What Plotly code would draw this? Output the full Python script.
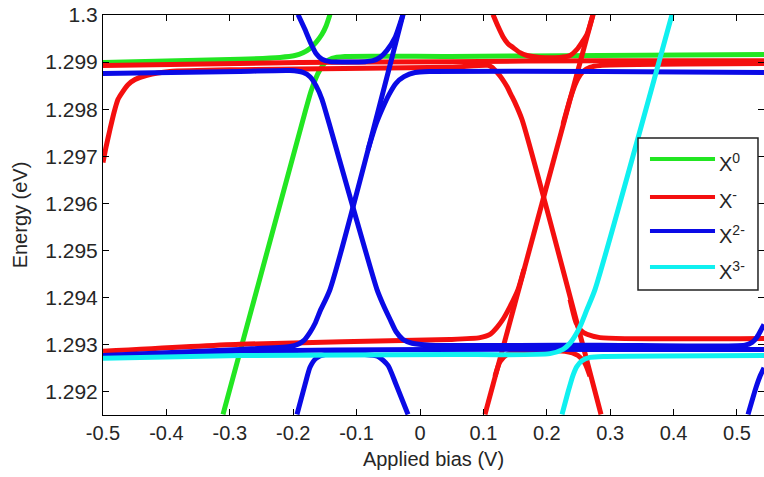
import plotly.graph_objects as go

# ---------------- data (bias in V, energy in eV) ----------------
# X0 (green)
x0_up_bias = [-0.5, -0.2839, -0.2208, -0.1972, -0.1845, -0.1735, -0.1640, -0.1546, -0.1483, -0.1420]
x0_up_energy = [1.29899, 1.29906, 1.29910, 1.29914, 1.29920, 1.29929, 1.29942, 1.29959, 1.29976, 1.30001]
x0_lo_bias = [-0.3107, -0.1845, -0.1719, -0.1640, -0.1577, -0.1498, -0.1388, -0.1183, 0.0473, 0.2839, 0.5426]
x0_lo_energy = [1.29152, 1.29778, 1.29838, 1.29867, 1.29884, 1.29899, 1.29908, 1.29912, 1.29912, 1.29914, 1.29916]

# X- (red)
xm_left_bias = [-0.5, -0.4953, -0.4890, -0.4826, -0.4763, -0.4685, -0.4606, -0.4495, -0.4306, -0.3943,
                -0.2839, 0.0473, 0.1073, 0.1136, 0.1215, 0.1293, 0.1372, 0.1435, 0.1498, 0.1609, 0.2855]
xm_left_energy = [1.29687, 1.29719, 1.29757, 1.29793, 1.29821, 1.29838, 1.29852, 1.29863, 1.29872, 1.29880,
                  1.29884, 1.29889, 1.29893, 1.29889, 1.29878, 1.29865, 1.29848, 1.29831, 1.29814, 1.29778, 1.29152]
xm_flat_bias = [-0.5, -0.1893, 0.0473, 0.2839, 0.5426]
xm_flat_energy = [1.29893, 1.29899, 1.29901, 1.29903, 1.29903]
xm_rise_bias = [0.1025, 0.2729]
xm_rise_energy = [1.29152, 1.30001]
xm_cup_bias = [0.1151, 0.1230, 0.1309, 0.1388, 0.1467, 0.1577, 0.1688, 0.1893, 0.2208, 0.2366, 0.2476, 0.2555, 0.2634, 0.2729]
xm_cup_energy = [1.30001, 1.29976, 1.29954, 1.29939, 1.29931, 1.29920, 1.29914, 1.29910, 1.29910, 1.29914, 1.29927, 1.29942, 1.29959, 1.30001]
xm_upr_bias = [0.2256, 0.2366, 0.2429, 0.2492, 0.2571, 0.2681, 0.2839, 0.5426]
xm_upr_energy = [1.29768, 1.29821, 1.29846, 1.29865, 1.29880, 1.29889, 1.29893, 1.29897]
xm_lol_bias = [-0.5, -0.2839, 0.0473, 0.0946, 0.1104, 0.1215, 0.1309, 0.1420, 0.1546, 0.1640]
xm_lol_energy = [1.29286, 1.29301, 1.29311, 1.29315, 1.29322, 1.29337, 1.29354, 1.29381, 1.29417, 1.29460]
xm_lor_bias = [0.2366, 0.2461, 0.2539, 0.2634, 0.2839, 0.5426]
xm_lor_energy = [1.29396, 1.29347, 1.29330, 1.29322, 1.29315, 1.29313]
xm_cap_bias = [0.1183, 0.1262, 0.1372, 0.1577, 0.2287, 0.2492, 0.2603, 0.2681]
xm_cap_energy = [1.29233, 1.29264, 1.29279, 1.29286, 1.29286, 1.29277, 1.29260, 1.29233]

# X2- (blue)
x2_upl_bias = [-0.5, -0.2839, -0.2050, -0.1845, -0.1735, -0.1640, -0.1546, -0.1451, -0.0678, -0.0584,
               -0.0473, -0.0379, -0.0268, -0.0126, 0.0158, 0.2839, 0.5126, 0.5237, 0.5315, 0.5379, 0.5426]
x2_upl_energy = [1.29876, 1.29880, 1.29882, 1.29878, 1.29869, 1.29850, 1.29821, 1.29778, 1.29417, 1.29386,
                 1.29354, 1.29328, 1.29311, 1.29303, 1.29299, 1.29299, 1.29299, 1.29305, 1.29316, 1.29331, 1.29343]
x2_lol_bias = [-0.5, -0.2839, -0.2050, -0.1924, -0.1830, -0.1735, -0.1656, -0.1577, -0.1420, -0.0268]
x2_lol_energy = [1.29277, 1.29290, 1.29296, 1.29301, 1.29309, 1.29326, 1.29345, 1.29371, 1.29417, 1.30001]
x2_cup_bias = [-0.1924, -0.1814, -0.1719, -0.1640, -0.1546, -0.1420, -0.0868, -0.0741, -0.0631, -0.0521, -0.0394, -0.0268]
x2_cup_energy = [1.30001, 1.29969, 1.29939, 1.29918, 1.29906, 1.29901, 1.29901, 1.29903, 1.29910, 1.29925, 1.29952, 1.30001]
x2_upr_bias = [-0.0820, -0.0694, -0.0584, -0.0489, -0.0379, -0.0252, -0.0079, 0.0158, 0.2839, 0.5426]
x2_upr_energy = [1.29714, 1.29768, 1.29804, 1.29831, 1.29855, 1.29869, 1.29878, 1.29880, 1.29880, 1.29878]
x2_cap_bias = [-0.1940, -0.1814, -0.1735, -0.1640, -0.1498, -0.0868, -0.0662, -0.0505, -0.0379, -0.0189]
x2_cap_energy = [1.29152, 1.29215, 1.29252, 1.29271, 1.29279, 1.29279, 1.29275, 1.29256, 1.29216, 1.29152]
x2_flat_bias = [-0.5, -0.2839, 0.0158, 0.2839, 0.5426]
x2_flat_energy = [1.29275, 1.29286, 1.29290, 1.29290, 1.29290]
x2_edge_bias = [0.5174, 0.5237, 0.5300, 0.5363, 0.5426]
x2_edge_energy = [1.29152, 1.29181, 1.29209, 1.29233, 1.29251]

# X3- (cyan)
x3_up_bias = [-0.5, -0.2839, 0.0473, 0.2050, 0.2256, 0.2366, 0.2461, 0.2539, 0.2634, 0.2760, 0.3975]
x3_up_energy = [1.29271, 1.29277, 1.29279, 1.29281, 1.29290, 1.29303, 1.29322, 1.29343, 1.29375, 1.29417, 1.30001]
x3_lo_bias = [0.2240, 0.2334, 0.2413, 0.2476, 0.2555, 0.2681, 0.2918, 0.5426]
x3_lo_energy = [1.29152, 1.29199, 1.29235, 1.29254, 1.29266, 1.29273, 1.29275, 1.29277]

x_ticks = [-0.5, -0.4, -0.3, -0.2, -0.1, 0.0, 0.1, 0.2, 0.3, 0.4, 0.5]
x_tick_labels = ["-0.5", "-0.4", "-0.3", "-0.2", "-0.1", "0", "0.1", "0.2", "0.3", "0.4", "0.5"]
y_ticks = [1.292, 1.293, 1.294, 1.295, 1.296, 1.297, 1.298, 1.299, 1.3]
y_tick_labels = ["1.292", "1.293", "1.294", "1.295", "1.296", "1.297", "1.298", "1.299", "1.3"]

legend_labels = ["X<sup>0</sup>", "X<sup>-</sup>", "X<sup>2-</sup>", "X<sup>3-</sup>"]
legend_colors = ["#22e622", "#f40f0f", "#0a0ae6", "#10f0f0"]

GREEN, RED, BLUE, CYAN = legend_colors

series = [
    (x0_up_bias, x0_up_energy, GREEN), (x0_lo_bias, x0_lo_energy, GREEN),
    (xm_flat_bias, xm_flat_energy, RED), (xm_left_bias, xm_left_energy, RED),
    (xm_rise_bias, xm_rise_energy, RED), (xm_cup_bias, xm_cup_energy, RED),
    (xm_upr_bias, xm_upr_energy, RED), (xm_lol_bias, xm_lol_energy, RED),
    (xm_lor_bias, xm_lor_energy, RED), (xm_cap_bias, xm_cap_energy, RED),
    (x2_flat_bias, x2_flat_energy, BLUE), (x2_upl_bias, x2_upl_energy, BLUE),
    (x2_lol_bias, x2_lol_energy, BLUE), (x2_cup_bias, x2_cup_energy, BLUE),
    (x2_upr_bias, x2_upr_energy, BLUE), (x2_cap_bias, x2_cap_energy, BLUE),
    (x2_edge_bias, x2_edge_energy, BLUE),
    (x3_up_bias, x3_up_energy, CYAN), (x3_lo_bias, x3_lo_energy, CYAN),
]

fig = go.Figure()
for xs, ys, col in series:
    fig.add_trace(go.Scatter(x=xs, y=ys, mode="lines",
                             line=dict(color=col, width=5, shape="spline", smoothing=0.6),
                             showlegend=False, hoverinfo="skip"))

FONT = "Liberation Sans, Arial, sans-serif"
axis_common = dict(showline=True, linecolor="black", linewidth=1, mirror="ticks",
                   ticks="inside", ticklen=6, tickcolor="black", showgrid=False, zeroline=False)

fig.update_layout(
    width=764, height=477,
    margin=dict(l=103, r=0, t=15, b=62, pad=0),
    paper_bgcolor="white", plot_bgcolor="white",
    xaxis=dict(range=[-0.5, 0.5426], tickvals=x_ticks, ticktext=x_tick_labels,
               tickfont=dict(family=FONT, size=20, color="#262626"),
               title=dict(text="Applied bias (V)", font=dict(family=FONT, size=20, color="#262626"), standoff=8),
               **axis_common),
    yaxis=dict(range=[1.291507, 1.3], tickvals=y_ticks, ticktext=y_tick_labels,
               tickfont=dict(family=FONT, size=21, color="#262626"),
               title=dict(text="Energy (eV)", font=dict(family=FONT, size=20, color="#262626"), standoff=12),
               **axis_common),
)

# legend box (drawn manually to match the long MATLAB legend lines)
shapes = [dict(type="rect", xref="paper", yref="paper", x0=0.8094, x1=0.9909, y0=0.3125, y1=0.6925,
               line=dict(color="#222", width=1.5), fillcolor="white", layer="above")]
legend_rows = [0.64, 0.545, 0.46, 0.37]
annotations = []
for lab, col, yy in zip(legend_labels, legend_colors, legend_rows):
    shapes.append(dict(type="line", xref="paper", yref="paper", x0=0.8275, x1=0.9259, y0=yy, y1=yy,
                       line=dict(color=col, width=4), layer="above"))
    annotations.append(dict(xref="paper", yref="paper", x=0.9289, y=yy, xanchor="left", yanchor="middle",
                            yshift=-3, text=lab, showarrow=False,
                            font=dict(family=FONT, size=20, color="#262626")))
fig.update_layout(shapes=shapes, annotations=annotations)

fig.write_html("out.html")
